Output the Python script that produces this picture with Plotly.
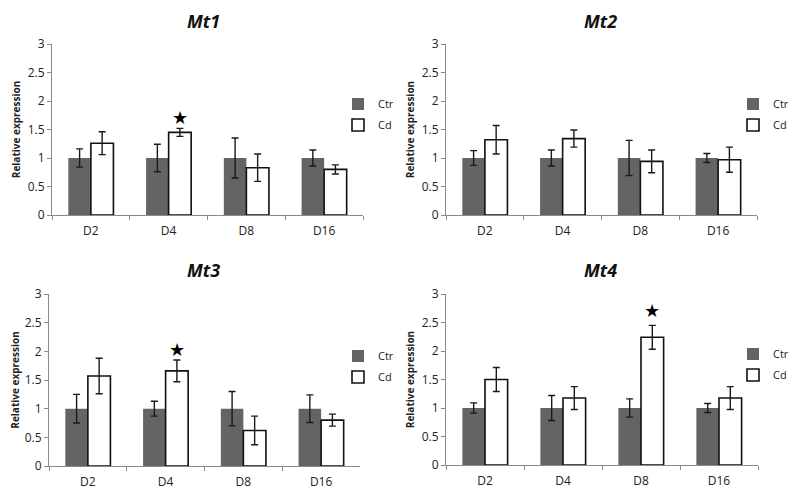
import plotly.graph_objects as go

# ---------------- data ----------------
days = ["D2", "D4", "D8", "D16"]
genes = ["Mt1", "Mt2", "Mt3", "Mt4"]
y_ticks = [0, 0.5, 1, 1.5, 2, 2.5, 3]
y_tick_labels = ["0", "0.5", "1", "1.5", "2", "2.5", "3"]

ctr_mt1 = [1.0, 1.0, 1.0, 1.0]
ctr_err_mt1 = [0.16, 0.24, 0.35, 0.14]
cd_mt1 = [1.26, 1.45, 0.83, 0.80]
cd_err_mt1 = [0.20, 0.07, 0.24, 0.08]

ctr_mt2 = [1.0, 1.0, 1.0, 1.0]
ctr_err_mt2 = [0.13, 0.14, 0.31, 0.08]
cd_mt2 = [1.32, 1.34, 0.94, 0.97]
cd_err_mt2 = [0.25, 0.15, 0.20, 0.22]

ctr_mt3 = [1.0, 1.0, 1.0, 1.0]
ctr_err_mt3 = [0.25, 0.13, 0.30, 0.24]
cd_mt3 = [1.57, 1.66, 0.62, 0.80]
cd_err_mt3 = [0.31, 0.19, 0.25, 0.105]

ctr_mt4 = [1.0, 1.0, 1.0, 1.0]
ctr_err_mt4 = [0.09, 0.22, 0.16, 0.08]
cd_mt4 = [1.50, 1.175, 2.24, 1.175]
cd_err_mt4 = [0.21, 0.20, 0.21, 0.20]

# significance stars (gene, day, height)
star_genes = ["Mt1", "Mt3", "Mt4"]
star_days = ["D4", "D4", "D8"]
star_y = [1.71, 2.03, 2.71]

ctr_vals = [ctr_mt1, ctr_mt2, ctr_mt3, ctr_mt4]
ctr_errs = [ctr_err_mt1, ctr_err_mt2, ctr_err_mt3, ctr_err_mt4]
cd_vals = [cd_mt1, cd_mt2, cd_mt3, cd_mt4]
cd_errs = [cd_err_mt1, cd_err_mt2, cd_err_mt3, cd_err_mt4]

# ---------------- layout geometry (page pixels) ----------------
PAGE_W, PAGE_H = 800, 494
OFF = 8                      # default body margin of the html page
W, H = PAGE_W - OFF, PAGE_H - OFF


def fx(p):
    return (p - OFF) / W


def fy(p):
    return 1 - (p - OFF) / H


x_dom = [(52, 363), (446, 757), (49, 360), (446, 758)]
y_dom = [(44, 215), (44, 215), (294, 466), (294, 465)]
title_pos = [(203, 8), (600, 8), (203, 257), (600, 257)]   # top of title box
legend_pos = [(338, 114.5), (733, 114.5), (338, 366.5), (733, 364.5)]

FONT = "Open Sans"
CTR_COLOR = "#646464"
AXIS_COLOR = "#8a8a8a"
TEXT_COLOR = "#222222"

fig = go.Figure()
layout = dict(
    width=W, height=H, autosize=False,
    margin=dict(l=0, r=0, t=0, b=0, autoexpand=False),
    paper_bgcolor="white", plot_bgcolor="white",
    barmode="group", bargap=0.42, bargroupgap=0,
    font=dict(family=FONT, size=12, color=TEXT_COLOR),
    annotations=[],
)

for i, g in enumerate(genes):
    sfx = "" if i == 0 else str(i + 1)
    xa, ya = "x" + sfx, "y" + sfx
    lg = "legend" + sfx
    fig.add_trace(go.Bar(
        x=days, y=ctr_vals[i], name="Ctr", xaxis=xa, yaxis=ya,
        marker=dict(color=CTR_COLOR, line=dict(width=0)),
        error_y=dict(type="data", array=ctr_errs[i], color="#1a1a1a",
                     thickness=1.4, width=3.5),
        legend=lg, legendgroup=g + "ctr", offsetgroup="ctr",
    ))
    fig.add_trace(go.Bar(
        x=days, y=cd_vals[i], name="Cd", xaxis=xa, yaxis=ya,
        marker=dict(color="white", line=dict(width=1.6, color="#111111")),
        error_y=dict(type="data", array=cd_errs[i], color="#1a1a1a",
                     thickness=1.4, width=3.5),
        legend=lg, legendgroup=g + "cd", offsetgroup="cd",
    ))
    x0, x1 = x_dom[i]
    y0, y1 = y_dom[i]
    layout["xaxis" + sfx] = dict(
        domain=[fx(x0), fx(x1)], anchor=ya, automargin=False,
        showline=True, linecolor=AXIS_COLOR, linewidth=1,
        ticks="outside", tickson="boundaries", ticklen=4, tickcolor=AXIS_COLOR,
        showgrid=False, zeroline=False, fixedrange=True,
        ticklabelstandoff=5,
        tickfont=dict(family=FONT, size=12, color=TEXT_COLOR),
    )
    layout["yaxis" + sfx] = dict(
        domain=[fy(y1), fy(y0)], anchor=xa, automargin=False,
        range=[0, 3], tickvals=y_ticks, ticktext=y_tick_labels,
        showline=True, linecolor=AXIS_COLOR, linewidth=1,
        ticks="outside", ticklen=4, tickcolor=AXIS_COLOR,
        showgrid=False, zeroline=False, fixedrange=True,
        tickfont=dict(family=FONT, size=12, color=TEXT_COLOR),
        title=dict(text="<b>Relative expression</b>",
                   font=dict(family=FONT, size=10, color=TEXT_COLOR), standoff=5),
    )
    lx, ly = legend_pos[i]
    layout[lg] = dict(
        x=fx(lx), y=fy(ly), xanchor="left", yanchor="middle",
        bgcolor="rgba(0,0,0,0)", borderwidth=0, tracegroupgap=2,
        font=dict(family=FONT, size=11, color=TEXT_COLOR),
        itemclick=False, itemdoubleclick=False,
    )
    tx, ty = title_pos[i]
    layout["annotations"].append(dict(
        text="<b><i>" + g + "</i></b>", x=fx(tx), y=fy(ty),
        xref="paper", yref="paper", xanchor="center", yanchor="top",
        borderpad=0, showarrow=False,
        font=dict(family=FONT, size=18, color="#111111"),
    ))

# stars above the Cd bars
for g, d, sy in zip(star_genes, star_days, star_y):
    i = genes.index(g)
    sfx = "" if i == 0 else str(i + 1)
    layout["annotations"].append(dict(
        text="★", x=d, y=sy, xref="x" + sfx, yref="y" + sfx,
        xshift=11.3, xanchor="center", yanchor="middle", showarrow=False,
        font=dict(family="DejaVu Sans", size=18, color="black"),
    ))

fig.update_layout(**layout)
fig.write_html("out.html")
